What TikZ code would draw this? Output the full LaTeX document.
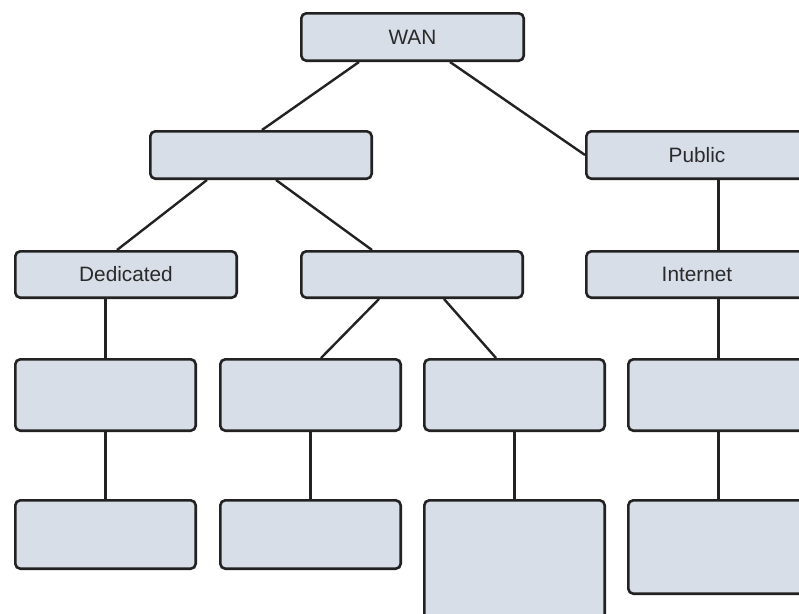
\documentclass[tikz,border=0pt]{standalone}
\usepackage{fontspec}
\setmainfont{Liberation Sans}
\usetikzlibrary{calc}
\definecolor{boxfill}{HTML}{D8DEE8}
\definecolor{boxline}{HTML}{222222}
\definecolor{labeltext}{HTML}{2A2A2A}
\begin{document}
\begin{tikzpicture}[x=1pt,y=-1pt,
  box/.style={draw=boxline,fill=boxfill,line width=2.6pt,rounded corners=5pt,
    inner sep=0pt,text=labeltext,font=\fontsize{20.8}{24}\selectfont},
  wide/.style={box,minimum width=221.4pt,minimum height=47.4pt},
  leaf/.style={box,minimum width=180.4pt},
  link/.style={draw=boxline,line width=2.4pt}]
\useasboundingbox (0,0) rectangle (799,613);
\clip (0,0) rectangle (799,613);

% upper levels
\node[wide,minimum width=222.4pt] (wan) at (412.5,37) {WAN};
\node[wide] (mid) at (261,155) {};
\node[wide] (pub) at (697,155) {Public};
\node[wide,minimum height=46.4pt] (ded) at (126,274.5) {Dedicated};
\node[wide,minimum height=46.4pt] (sw) at (412,274.5) {};
\node[wide,minimum height=46.4pt] (inet) at (697,274.5) {Internet};

% fourth row
\node[leaf,minimum height=71.4pt] (ra) at (105.5,395) {};
\node[leaf,minimum height=71.4pt] (rb) at (310.5,395) {};
\node[leaf,minimum height=71.4pt] (rc) at (514.5,395) {};
\node[leaf,minimum height=71.4pt] (rd) at (718.5,395) {};

% bottom row
\node[leaf,minimum height=68.4pt] (sa) at (105.5,534.5) {};
\node[leaf,minimum height=68.4pt] (sb) at (310.5,534.5) {};
\node[leaf,minimum height=143.4pt] (sc) at (514.5,572) {};
\node[leaf,minimum height=93.4pt] (sd) at (718.5,547) {};

% connectors
\draw[link] ($(wan.south west)+(59,0)$) -- ($(mid.north west)+(113,0)$);
\draw[link] ($(wan.south west)+(150,0)$) -- (pub.west);
\draw[link] ($(mid.south west)+(58,0)$) -- ($(ded.north west)+(103,0)$);
\draw[link] ($(mid.south west)+(127,0)$) -- ($(sw.north west)+(72,0)$);
\draw[link] ($(sw.south west)+(79,0)$) -- ($(rb.north west)+(102,0)$);
\draw[link] ($(sw.south west)+(144,0)$) -- ($(rc.north west)+(73,0)$);
\draw[link] (pub.south -| rd.north) -- (inet.north -| rd.north);
\draw[link] (rd.north) -- (rd.north |- inet.south);
\draw[link] (ra.north) -- (ra.north |- ded.south);
\draw[link] (sa.north) -- (ra.south);
\draw[link] (sb.north) -- (rb.south);
\draw[link] (sc.north) -- (rc.south);
\draw[link] (sd.north) -- (rd.south);
\end{tikzpicture}
\end{document}
